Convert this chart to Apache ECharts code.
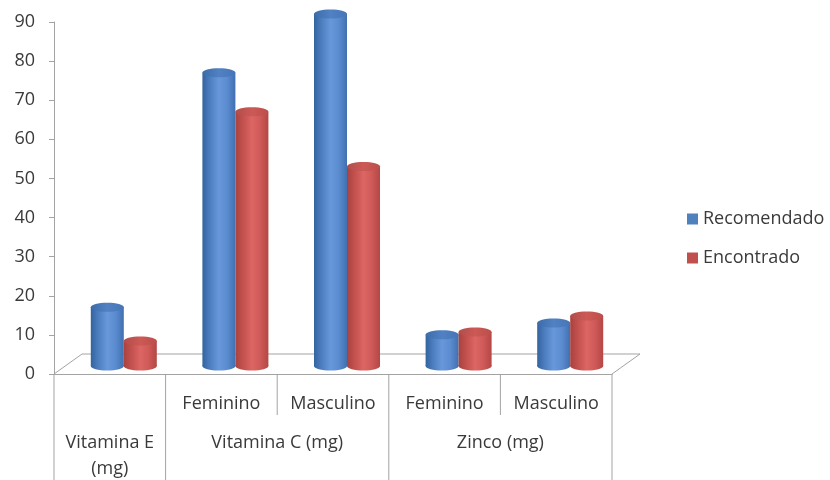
<!DOCTYPE html>
<html>
<head>
<meta charset="utf-8">
<script src="https://cdn.jsdelivr.net/npm/echarts@6/dist/echarts.min.js"></script>
<style>
  html, body { margin: 0; padding: 0; background: #ffffff; }
  #chart { width: 830px; height: 480px; }
</style>
</head>
<body>
<div id="chart"></div>
<script>
// Second-level category labels (one per column)
const subCategories = ['', 'Feminino', 'Masculino', 'Feminino', 'Masculino'];
// First-level groups spanning the columns
const groupNames = ['Vitamina E\n(mg)', 'Vitamina C (mg)', 'Zinco (mg)'];
const groupFrom = [0, 1, 3];
const groupTo = [0, 2, 4];
// Series values
const recomendado = [15, 75, 90, 8, 11];
const encontrado = [6.4, 65, 51, 8.7, 12.8];
// Value axis
const yMin = 0, yMax = 90, yStep = 10;

const FONT = '"Open Sans", sans-serif';
const TEXT = '#3a3a3a';
const LINE = '#a3a3a3';

// 3D floor depth and the mid-depth where the cylinders stand
const FLOOR_DX = 28, FLOOR_DY = 20;
const BAR_DX = 14, BAR_DY = 8;
const BAR_W = 33, RY = 4.5;

function grad(stops) {
  return new echarts.graphic.LinearGradient(0, 0, 1, 0,
    stops.map((c, k) => ({ offset: k / (stops.length - 1), color: c })));
}

const blueBody = ['#33639f', '#4f80c2', '#6898da', '#5b8cd0', '#4170b0'];
const blueTop = ['#3d6cab', '#5181c2', '#4676b8'];
const redBody = ['#a8423f', '#c5524f', '#db6663', '#cf5a57', '#b34744'];
const redTop = ['#b24d4a', '#cc5956', '#bd4e4b'];

function cylinder(side, body, topStops) {
  return function (params, api) {
    const i = api.value(0);
    const base = api.coord([i, 0]);
    const head = api.coord([i, api.value(1)]);
    const rx = BAR_W / 2;
    const cx = base[0] + BAR_DX + side * rx;
    const by = base[1] - BAR_DY;
    const ty = head[1] - BAR_DY;
    return {
      type: 'group',
      children: [
        { type: 'ellipse', shape: { cx: cx, cy: by, rx: rx, ry: RY }, style: { fill: grad(body) } },
        { type: 'rect', shape: { x: cx - rx, y: ty, width: 2 * rx, height: by - ty }, style: { fill: grad(body) } },
        { type: 'ellipse', shape: { cx: cx, cy: ty, rx: rx, ry: RY }, style: { fill: grad(topStops) } }
      ]
    };
  };
}

// Floor outline, category table lines and the group labels
function floorAndTable(params, api) {
  const cs = params.coordSys;
  const x0 = cs.x, x1 = cs.x + cs.width, y0 = cs.y + cs.height;
  const band = cs.width / subCategories.length;
  const bottom = api.getHeight();
  const ls = { stroke: LINE, lineWidth: 1 };
  const children = [
    { type: 'line', shape: { x1: x0 + FLOOR_DX, y1: y0 - FLOOR_DY, x2: x1 + FLOOR_DX, y2: y0 - FLOOR_DY }, style: ls },
    { type: 'line', shape: { x1: x0, y1: y0, x2: x0 + FLOOR_DX, y2: y0 - FLOOR_DY }, style: ls },
    { type: 'line', shape: { x1: x1, y1: y0, x2: x1 + FLOOR_DX, y2: y0 - FLOOR_DY }, style: ls },
    { type: 'line', shape: { x1: x0, y1: y0, x2: x0, y2: bottom }, style: ls }
  ];
  groupNames.forEach((name, g) => {
    const left = x0 + groupFrom[g] * band;
    const right = x0 + (groupTo[g] + 1) * band;
    children.push({ type: 'line', shape: { x1: right, y1: y0, x2: right, y2: bottom }, style: ls });
    for (let k = groupFrom[g] + 1; k <= groupTo[g]; k++) {
      const xs = x0 + k * band;
      children.push({ type: 'line', shape: { x1: xs, y1: y0, x2: xs, y2: y0 + 41 }, style: ls });
    }
    children.push({
      type: 'text',
      style: {
        x: (left + right) / 2, y: y0 + 56, text: name,
        align: 'center', verticalAlign: 'top',
        fill: TEXT, font: '18px ' + FONT, lineHeight: 26
      }
    });
  });
  return { type: 'group', children: children };
}

const chart = echarts.init(document.getElementById('chart'), null, { renderer: 'canvas' });
chart.setOption({
  animation: false,
  backgroundColor: '#ffffff',
  grid: { left: 54, right: 218, top: 22, bottom: 106 },
  legend: {
    orient: 'vertical',
    left: 682, top: 205,
    icon: 'rect', itemWidth: 11, itemHeight: 11, itemGap: 21,
    textStyle: { fontFamily: FONT, fontSize: 18, color: TEXT, lineHeight: 18 },
    data: ['Recomendado', 'Encontrado']
  },
  xAxis: {
    type: 'category',
    data: subCategories,
    axisLine: { lineStyle: { color: LINE } },
    axisTick: { show: false },
    axisLabel: { margin: 21, fontFamily: FONT, fontSize: 18, color: TEXT, interval: 0 }
  },
  yAxis: {
    type: 'value',
    min: yMin, max: yMax, interval: yStep,
    axisLine: { show: true, lineStyle: { color: LINE } },
    axisTick: { show: true, length: 5, lineStyle: { color: LINE } },
    splitLine: { show: false },
    axisLabel: { margin: 19, fontFamily: FONT, fontSize: 18, color: TEXT }
  },
  series: [
    {
      type: 'custom', name: 'floor', z: 1, silent: true,
      data: [[0, 0]],
      renderItem: floorAndTable
    },
    {
      type: 'custom', name: 'Recomendado', z: 2,
      itemStyle: { color: '#4f81bd' },
      data: recomendado.map((v, i) => [i, v]),
      renderItem: cylinder(-1, blueBody, blueTop)
    },
    {
      type: 'custom', name: 'Encontrado', z: 3,
      itemStyle: { color: '#c0504d' },
      data: encontrado.map((v, i) => [i, v]),
      renderItem: cylinder(1, redBody, redTop)
    }
  ]
});
</script>
</body>
</html>
